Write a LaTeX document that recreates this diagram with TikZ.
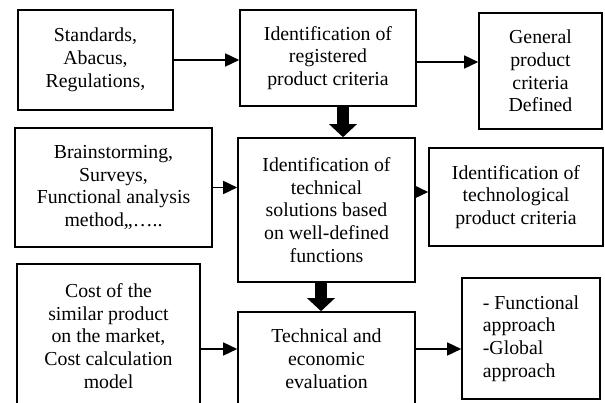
\documentclass[tikz,border=0pt]{standalone}
\usepackage{fontspec}
\setmainfont{Liberation Serif}
\usetikzlibrary{arrows.meta,calc}
\begin{document}
\begin{tikzpicture}[x=1pt,y=-1pt,
  box/.style={draw,line width=1.6pt,inner sep=0pt,align=center,
    font=\fontsize{19.8}{22.8}\selectfont},
  arr/.style={line width=1.6pt,-{Triangle[length=14pt,width=13pt]}},
  bigarr/.style={line width=12pt,-{Triangle[length=13pt,width=27pt]}}]
\useasboundingbox (0,0) rectangle (605,403);
\clip (0,0) rectangle (605,403);
\node[box,minimum width=155pt,minimum height=100pt] (A) at (95.5,60) {Standards,\\Abacus,\\Regulations,};
\node[box,minimum width=176pt,minimum height=96pt] (B) at (328,58) {Identification of\\registered\\product criteria};
\node[box,minimum width=123pt,minimum height=116pt] (C) at (540.5,71) {General\\product\\criteria\\Defined};
\node[box,minimum width=197pt,minimum height=119pt] (D) at (113.5,187.5) {Brainstorming,\\Surveys,\\Functional analysis\\method,,\ldots..};
\node[box,minimum width=177pt,minimum height=144pt] (E) at (326.5,210) {Identification of\\technical\\solutions based\\on well-defined\\functions};
\node[box,minimum width=174pt,minimum height=98pt] (F) at (516,197) {Identification of\\technological\\product criteria};
\node[box,minimum width=183pt,minimum height=144pt] (G) at (108.5,336) {Cost of the\\similar product\\on the market,\\Cost calculation\\model};
\node[box,minimum width=177pt,minimum height=94pt] (H) at (326.5,359) {Technical and\\economic\\evaluation};
\node[box,minimum width=138pt,minimum height=121pt,align=left] (I) at (531,338.5) {- Functional\\approach\\-Global\\approach};
% thin arrows
\draw[arr] (A.east) -- (A.east -| B.west);
\coordinate (bc) at ($(B.east)+(0,4)$);
\draw[arr] (bc) -- (bc -| C.west);
\draw[arr] (D.east) -- (D.east -| E.west);
\coordinate (ef) at ($(F.west)+(0,-5)$);
\draw[arr] (ef -| E.east) -- (ef);
\coordinate (gh) at ($(G.east)+(0,13)$);
\draw[arr] (gh) -- (gh -| H.west);
\draw[arr] (gh -| H.east) -- (gh -| I.west);
% thick arrows
\coordinate (be) at ($(B.south)+(15,0)$);
\draw[bigarr] (be) -- (be |- E.north);
\coordinate (eh) at ($(E.south)+(-5.5,0)$);
\draw[bigarr] (eh) -- (eh |- H.north);
\end{tikzpicture}
\end{document}
